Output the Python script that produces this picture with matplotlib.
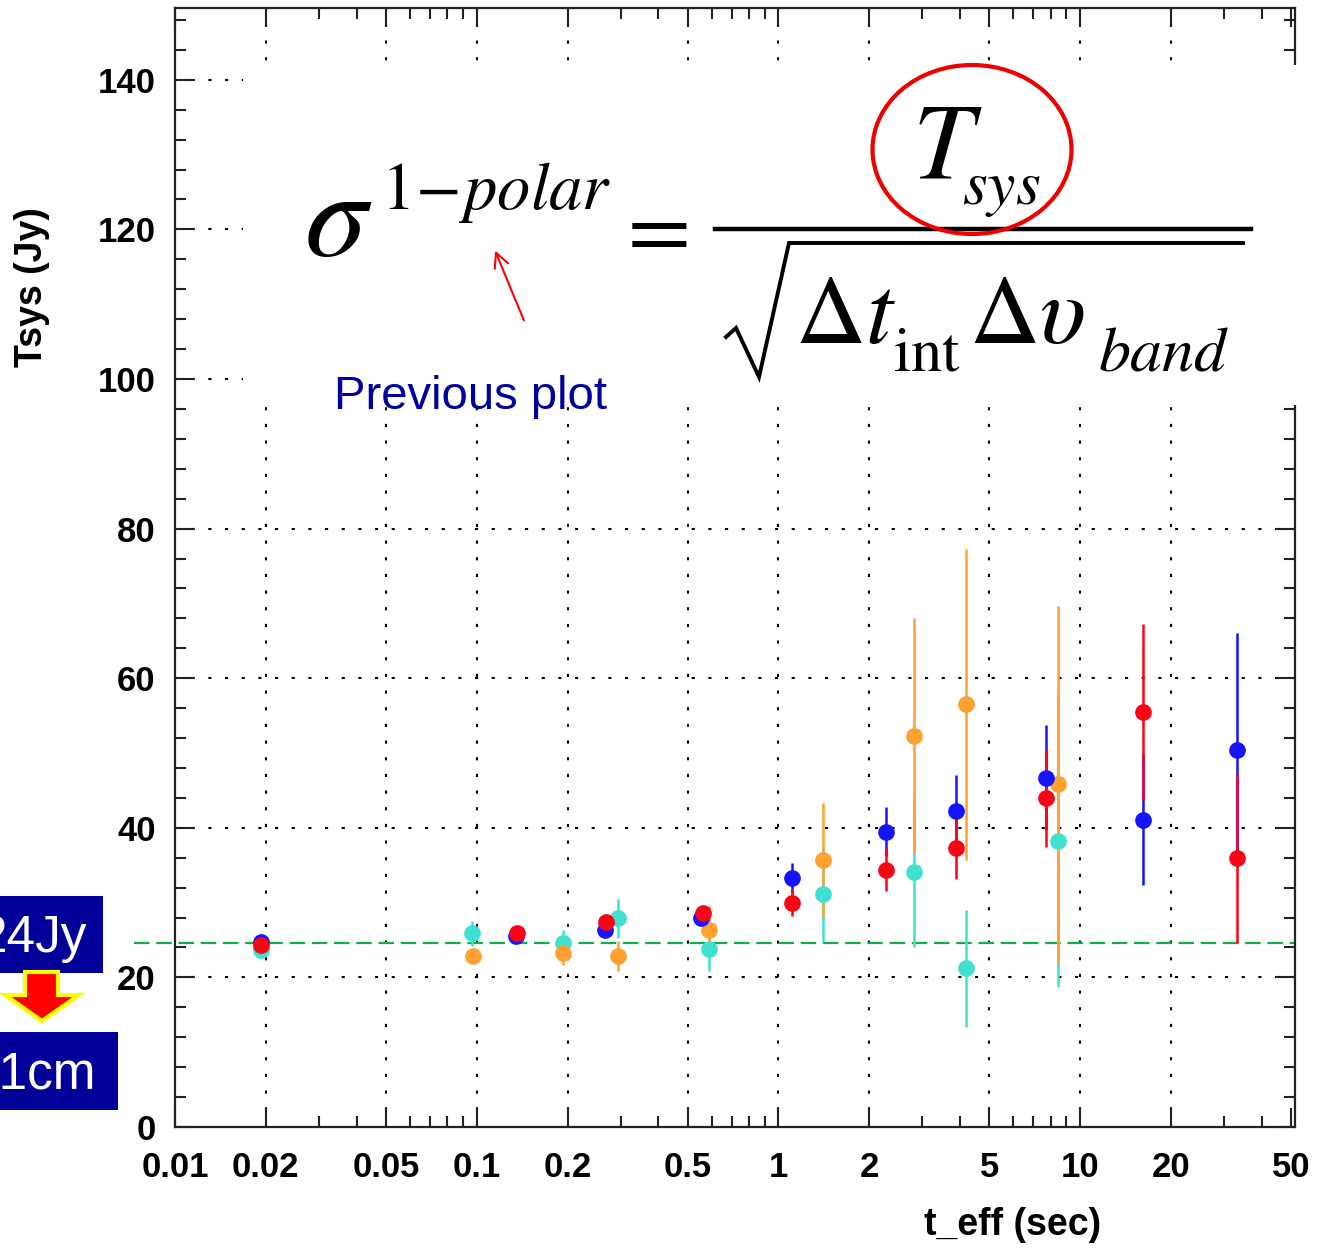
import matplotlib
matplotlib.use('Agg')
import matplotlib.pyplot as plt
from matplotlib.patches import Rectangle, Ellipse, Polygon, FancyArrowPatch
from matplotlib.lines import Line2D

# ---- data ----
blue_x = [0.0193, 0.135, 0.266, 0.555, 1.11, 2.27, 3.88, 7.73, 16.1, 33.0]
blue_y = [24.7, 25.5, 26.4, 28.0, 33.3, 39.5, 42.3, 46.7, 41.1, 50.4]
blue_e = [0.6, 0.6, 0.6, 0.7, 2.0, 3.3, 4.7, 7.0, 8.7, 15.7]

red_x = [0.0193, 0.136, 0.268, 0.561, 1.11, 2.27, 3.88, 7.73, 16.1, 33.0]
red_y = [24.3, 25.9, 27.4, 28.6, 30.0, 34.4, 37.3, 44.0, 55.5, 35.9]
red_e = [0.6, 0.8, 0.8, 0.7, 1.8, 2.9, 4.2, 6.6, 11.8, 11.3]

orange_x = [0.0972, 0.193, 0.294, 0.588, 1.40, 2.82, 4.19, 8.45]
orange_y = [22.9, 23.2, 22.9, 26.3, 35.7, 52.3, 56.5, 45.8]
orange_e = [1.0, 1.5, 2.0, 3.2, 7.6, 15.7, 20.8, 23.9]

cyan_x = [0.0193, 0.0966, 0.193, 0.294, 0.588, 1.40, 2.82, 4.19, 8.45]
cyan_y = [23.7, 25.9, 24.6, 27.9, 23.8, 31.1, 34.1, 21.2, 38.3]
cyan_e = [0.6, 1.7, 1.8, 2.6, 3.0, 6.4, 10.1, 7.8, 19.6]

tsys_ref = 24.6

xticks = [0.01, 0.02, 0.05, 0.1, 0.2, 0.5, 1, 2, 5, 10, 20, 50]
xtick_labels = ['0.01', '0.02', '0.05', '0.1', '0.2', '0.5', '1', '2', '5', '10', '20', '50']
yticks = [0, 20, 40, 60, 80, 100, 120, 140]

W, H = 1320, 1248


def fx(x):
    return x / W


def fy(y):
    return 1 - y / H


plt.rcParams['font.family'] = ['Liberation Sans', 'DejaVu Sans']
plt.rcParams['mathtext.fontset'] = 'stix'

fig = plt.figure(figsize=(13.2, 12.48), dpi=100)
ax = fig.add_axes([fx(175), fy(1127), (1295 - 175) / W, (1127 - 8) / H])
ax.set_xscale('log')
ax.set_xlim(0.01, 51.5)
ax.set_ylim(0, 149.6)

# grid, ROOT style dotted
for gx in xticks[1:-1]:
    ax.axvline(gx, color='black', lw=1.5, ls=(0, (1.5, 6.5)), zorder=1)
for gy in yticks[1:]:
    ax.axhline(gy, color='black', lw=1.5, ls=(0, (1.5, 6.5)), zorder=1)

ax.plot([0.0073, 51.5], [tsys_ref, tsys_ref], color='#10b048', lw=1.6,
        ls=(0, (7, 3)), clip_on=False, zorder=2)

series = [
    (cyan_x, cyan_y, cyan_e, '#40e0d0'),
    (orange_x, orange_y, orange_e, '#ffa030'),
    (blue_x, blue_y, blue_e, '#1414ff'),
    (red_x, red_y, red_e, '#ff0015'),
]
for xs, ys, es, c in series:
    ax.errorbar(xs, ys, yerr=es, fmt='o', color=c, mec=c, ms=11,
                elinewidth=1.8, capsize=0, zorder=3)

ax.set_xticks(xticks)
ax.set_xticklabels(xtick_labels)
minor = [m * 10.0 ** k for k in range(-2, 2) for m in range(2, 10)]
minor = [v for v in minor if v < 51.5 and v not in xticks]
ax.set_xticks(minor, minor=True)
ax.set_xticklabels([], minor=True)
ax.set_yticks(yticks)
ax.set_yticks(range(0, 150, 4), minor=True)

ax.tick_params(which='both', direction='in', top=True, right=True,
               width=1.5, color='#222222')
ax.tick_params(which='major', length=14)
ax.tick_params(which='minor', length=8)
ax.tick_params(axis='x', pad=17, labelsize=25)
ax.tick_params(axis='y', pad=14, labelsize=25)
for lab in ax.get_xticklabels() + ax.get_yticklabels():
    lab.set_fontweight('bold')
for sp in ax.spines.values():
    sp.set_linewidth(1.6)
    sp.set_color('#222222')

fig.text(fx(1013), fy(1225), 't_eff (sec)', fontsize=27, fontweight='bold',
         ha='center', va='center')
fig.text(fx(32), fy(287), 'Tsys (Jy)', fontsize=27, fontweight='bold',
         ha='center', va='center', rotation=90)

# pasted formula panel
fig.add_artist(Rectangle((fx(243), fy(405)), (1302 - 243) / W, (405 - 65) / H,
                         transform=fig.transFigure, facecolor='white',
                         edgecolor='none', zorder=5))

fig.text(fx(304), fy(256), r'$\sigma$', fontsize=90, va='baseline', zorder=6)
fig.text(fx(381), fy(209), r'$1\!-\!polar$', fontsize=48, va='baseline', zorder=6)
fig.text(fx(614), fy(256), r'$=$', fontsize=66, va='baseline', zorder=6)
fig.text(fx(912), fy(178), r'$T$', fontsize=78, va='baseline', zorder=6)
fig.text(fx(962), fy(204), r'$sys$', fontsize=46, va='baseline', zorder=6)
fig.add_artist(Line2D([fx(715), fx(1251)], [fy(229), fy(229)], color='black',
                      lw=3.2, transform=fig.transFigure, zorder=6))
fig.add_artist(Line2D([fx(726), fx(736), fx(759), fx(789), fx(1243)],
                      [fy(337), fy(328), fy(377), fy(243), fy(243)],
                      color='black', lw=2.8, transform=fig.transFigure,
                      solid_joinstyle='miter', zorder=6))
fig.text(fx(795), fy(343), r'$\Delta t$', fontsize=70, va='baseline', zorder=6)
fig.text(fx(893), fy(370), r'$\mathrm{int}$', fontsize=45, va='baseline', zorder=6)
fig.text(fx(969), fy(343), r'$\Delta\upsilon$', fontsize=70, va='baseline', zorder=6)
fig.text(fx(1098), fy(370), r'$band$', fontsize=46, va='baseline', zorder=6)

fig.add_artist(Ellipse((fx(972), fy(149.5)), 199 / W, 169 / H,
                       transform=fig.transFigure, fill=False,
                       edgecolor='#ee0000', lw=3, zorder=7))

fig.add_artist(FancyArrowPatch((fx(525), fy(323)), (fx(494), fy(248)),
                               transform=fig.transFigure, arrowstyle='->',
                               mutation_scale=26, color='red', lw=1.5, zorder=7))
fig.text(fx(334), fy(409), 'Previous plot', fontsize=34, color='#0000a0',
         va='baseline', zorder=7)

# boxes on the left edge
fig.add_artist(Rectangle((0, fy(973)), 103 / W, (973 - 896) / H,
                         transform=fig.transFigure, facecolor='#000099',
                         edgecolor='none', zorder=5))
fig.text(fx(-22), fy(952), '24Jy', fontsize=37, color='white', va='baseline', zorder=6)
fig.add_artist(Polygon([(fx(25), fy(972)), (fx(58), fy(972)), (fx(58), fy(995)),
                        (fx(79), fy(995)), (fx(42), fy(1021)), (fx(5), fy(995)),
                        (fx(25), fy(995))], closed=True,
                       transform=fig.transFigure, facecolor='#ff0000',
                       edgecolor='#ffff00', lw=3, joinstyle='miter', zorder=6))
fig.add_artist(Rectangle((0, fy(1110)), 118 / W, (1110 - 1032) / H,
                         transform=fig.transFigure, facecolor='#000099',
                         edgecolor='none', zorder=5))
fig.text(fx(-30), fy(1090), '21cm', fontsize=37, color='white', va='baseline', zorder=6)

fig.savefig('out.png', dpi=100)
